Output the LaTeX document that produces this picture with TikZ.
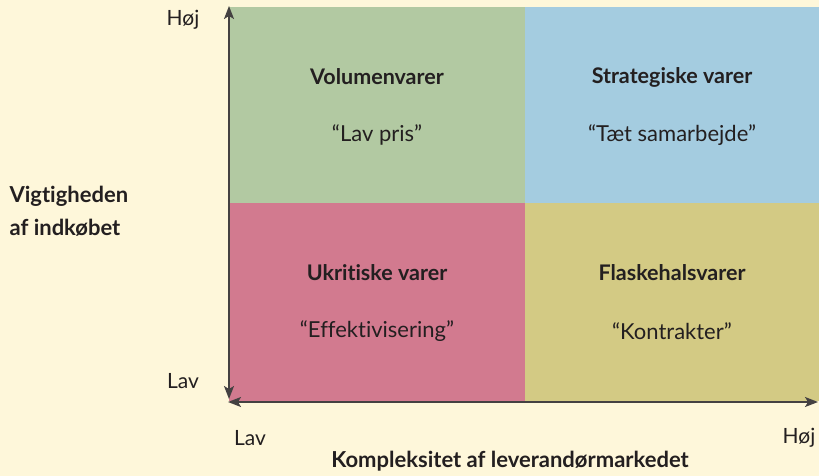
\documentclass[tikz,border=0pt]{standalone}
\usepackage{fontspec}
\setmainfont{Lato}[Ligatures={NoCommon}]
\usetikzlibrary{arrows.meta}
\definecolor{bgcream}{HTML}{FEF7DA}
\definecolor{qgreen}{HTML}{B2C9A2}
\definecolor{qblue}{HTML}{A4CCE0}
\definecolor{qpink}{HTML}{D27A8F}
\definecolor{qolive}{HTML}{D3CA84}
\definecolor{ink}{HTML}{231F20}
\begin{document}
\begin{tikzpicture}[x=1pt,y=-1pt,
  title/.style={font=\fontsize{21.5}{24}\selectfont\bfseries,text=ink},
  quote/.style={font=\fontsize{22}{24}\selectfont,text=ink},
  axlabel/.style={font=\fontsize{21}{24}\selectfont,text=ink},
  axtitle/.style={font=\fontsize{22}{32.5}\selectfont\bfseries,text=ink,align=left},
  tip/.tip={Stealth[length=13pt,width=10pt,inset=3pt]},
  axis/.style={line width=1.6pt,draw=ink!85,tip-tip}]
\fill[bgcream] (0,0) rectangle (819,476);
\useasboundingbox (0,0) rectangle (819,476);
% quadrants
\fill[qgreen] (229,7) rectangle (525,203);
\fill[qblue] (525,7) rectangle (819,203);
\fill[qpink] (229,203) rectangle (525,401);
\fill[qolive] (525,203) rectangle (819,401);
% axis end points
\coordinate (ytop) at (229,6);
\coordinate (ybot) at (229,399);
\coordinate (xleft) at (228,402);
\coordinate (xright) at (818,402);
\draw[axis] (ybot) -- (ytop);
\draw[axis] (xleft) -- (xright);
% quadrant texts
\node[title] (t1) at (377,77) {Volumenvarer};
\node[quote] (q1) at (377,135) {“Lav pris”};
\node[title] (t2) at (672,77) {Strategiske varer};
\node[quote] (q2) at (672,135) {“Tæt samarbejde”};
\node[title] (t3) at (377,273) {Ukritiske varer};
\node[quote] (q3) at (377,331) {“Effektivisering”};
\node[title] (t4) at (672,273) {Flaskehalsvarer};
\node[quote] (q4) at (672,331) {“Kontrakter”};
% axis labels
\node[axlabel] (yhi) at (183,20) {Høj};
\node[axlabel] (ylo) at (183,381) {Lav};
\node[axlabel] (xlo) at (250,438) {Lav};
\node[axlabel] (xhi) at (799,438) {Høj};
\node[axtitle,anchor=west] (ytitle) at (6,211) {Vigtigheden\\af indkøbet};
\node[axtitle] (xtitle) at (510,461) {Kompleksitet af leverandørmarkedet};
\end{tikzpicture}
\end{document}
